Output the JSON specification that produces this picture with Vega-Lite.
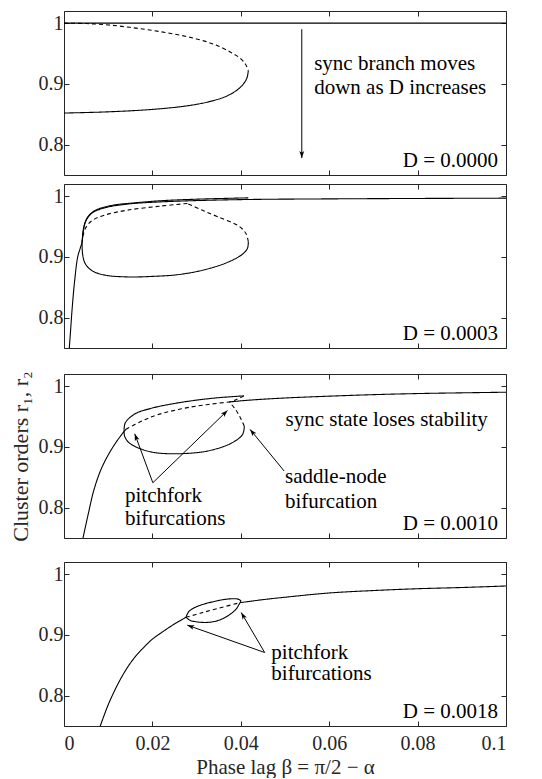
{
  "$schema": "https://vega.github.io/schema/vega-lite/v6.json",
  "padding": {"left": 8, "top": 10, "right": 8, "bottom": 0},
  "spacing": 18,
  "config": {
    "view": {"stroke": "#262626", "strokeWidth": 1},
    "axis": {"grid": false, "domain": false, "tickSize": -5, "tickColor": "#262626", "tickWidth": 1, "labelColor": "#262626", "labelFont": "Liberation Serif", "labelFontSize": 20, "titleFont": "Liberation Serif", "titleFontSize": 22, "titleFontWeight": "normal", "titleColor": "#262626"}
  },
  "datasets": {
    "curves": [
      {"panel":"p1","series":"p1sync","stability":"stable","ord":0,"x":0,"y":1},
      {"panel":"p1","series":"p1sync","stability":"stable","ord":1,"x":0.1,"y":1},
      {"panel":"p1","series":"p1up","stability":"unstable","ord":0,"x":0,"y":1.0},
      {"panel":"p1","series":"p1up","stability":"unstable","ord":1,"x":0.005,"y":0.9993},
      {"panel":"p1","series":"p1up","stability":"unstable","ord":2,"x":0.01,"y":0.997},
      {"panel":"p1","series":"p1up","stability":"unstable","ord":3,"x":0.015,"y":0.993},
      {"panel":"p1","series":"p1up","stability":"unstable","ord":4,"x":0.02,"y":0.988},
      {"panel":"p1","series":"p1up","stability":"unstable","ord":5,"x":0.025,"y":0.982},
      {"panel":"p1","series":"p1up","stability":"unstable","ord":6,"x":0.03,"y":0.974},
      {"panel":"p1","series":"p1up","stability":"unstable","ord":7,"x":0.034,"y":0.965},
      {"panel":"p1","series":"p1up","stability":"unstable","ord":8,"x":0.0375,"y":0.953},
      {"panel":"p1","series":"p1up","stability":"unstable","ord":9,"x":0.0399,"y":0.942},
      {"panel":"p1","series":"p1up","stability":"unstable","ord":10,"x":0.0411,"y":0.932},
      {"panel":"p1","series":"p1up","stability":"unstable","ord":11,"x":0.0417,"y":0.922},
      {"panel":"p1","series":"p1low","stability":"stable","ord":0,"x":0,"y":0.852},
      {"panel":"p1","series":"p1low","stability":"stable","ord":1,"x":0.01,"y":0.854},
      {"panel":"p1","series":"p1low","stability":"stable","ord":2,"x":0.02,"y":0.858},
      {"panel":"p1","series":"p1low","stability":"stable","ord":3,"x":0.028,"y":0.864},
      {"panel":"p1","series":"p1low","stability":"stable","ord":4,"x":0.033,"y":0.871},
      {"panel":"p1","series":"p1low","stability":"stable","ord":5,"x":0.0365,"y":0.879},
      {"panel":"p1","series":"p1low","stability":"stable","ord":6,"x":0.039,"y":0.889},
      {"panel":"p1","series":"p1low","stability":"stable","ord":7,"x":0.0405,"y":0.899},
      {"panel":"p1","series":"p1low","stability":"stable","ord":8,"x":0.0414,"y":0.91},
      {"panel":"p1","series":"p1low","stability":"stable","ord":9,"x":0.0417,"y":0.922},

      {"panel":"p2","series":"p2sync","stability":"stable","ord":0,"x":0.0012,"y":0.75},
      {"panel":"p2","series":"p2sync","stability":"stable","ord":1,"x":0.0015,"y":0.78},
      {"panel":"p2","series":"p2sync","stability":"stable","ord":2,"x":0.0019,"y":0.82},
      {"panel":"p2","series":"p2sync","stability":"stable","ord":3,"x":0.0024,"y":0.86},
      {"panel":"p2","series":"p2sync","stability":"stable","ord":4,"x":0.0031,"y":0.9},
      {"panel":"p2","series":"p2sync","stability":"stable","ord":5,"x":0.0037,"y":0.915},
      {"panel":"p2","series":"p2sync","stability":"stable","ord":6,"x":0.0041,"y":0.925},
      {"panel":"p2","series":"p2sync","stability":"stable","ord":7,"x":0.0044,"y":0.944},
      {"panel":"p2","series":"p2sync","stability":"stable","ord":8,"x":0.005,"y":0.96},
      {"panel":"p2","series":"p2sync","stability":"stable","ord":9,"x":0.0064,"y":0.9725},
      {"panel":"p2","series":"p2sync","stability":"stable","ord":10,"x":0.0093,"y":0.981},
      {"panel":"p2","series":"p2sync","stability":"stable","ord":11,"x":0.0144,"y":0.987},
      {"panel":"p2","series":"p2sync","stability":"stable","ord":12,"x":0.0217,"y":0.9905},
      {"panel":"p2","series":"p2sync","stability":"stable","ord":13,"x":0.029,"y":0.9925},
      {"panel":"p2","series":"p2sync","stability":"stable","ord":14,"x":0.0417,"y":0.9945},
      {"panel":"p2","series":"p2sync","stability":"stable","ord":15,"x":0.06,"y":0.9955},
      {"panel":"p2","series":"p2sync","stability":"stable","ord":16,"x":0.08,"y":0.9962},
      {"panel":"p2","series":"p2sync","stability":"stable","ord":17,"x":0.1,"y":0.9967},
      {"panel":"p2","series":"p2r1","stability":"stable","ord":0,"x":0.0041,"y":0.925},
      {"panel":"p2","series":"p2r1","stability":"stable","ord":1,"x":0.0045,"y":0.95},
      {"panel":"p2","series":"p2r1","stability":"stable","ord":2,"x":0.0054,"y":0.966},
      {"panel":"p2","series":"p2r1","stability":"stable","ord":3,"x":0.0072,"y":0.977},
      {"panel":"p2","series":"p2r1","stability":"stable","ord":4,"x":0.011,"y":0.985},
      {"panel":"p2","series":"p2r1","stability":"stable","ord":5,"x":0.016,"y":0.989},
      {"panel":"p2","series":"p2r1","stability":"stable","ord":6,"x":0.022,"y":0.9925},
      {"panel":"p2","series":"p2r1","stability":"stable","ord":7,"x":0.03,"y":0.995},
      {"panel":"p2","series":"p2r1","stability":"stable","ord":8,"x":0.0417,"y":0.9972},
      {"panel":"p2","series":"p2loop","stability":"stable","ord":0,"x":0.0041,"y":0.925},
      {"panel":"p2","series":"p2loop","stability":"stable","ord":1,"x":0.0042,"y":0.905},
      {"panel":"p2","series":"p2loop","stability":"stable","ord":2,"x":0.0048,"y":0.889},
      {"panel":"p2","series":"p2loop","stability":"stable","ord":3,"x":0.0064,"y":0.877},
      {"panel":"p2","series":"p2loop","stability":"stable","ord":4,"x":0.0093,"y":0.87},
      {"panel":"p2","series":"p2loop","stability":"stable","ord":5,"x":0.0144,"y":0.867},
      {"panel":"p2","series":"p2loop","stability":"stable","ord":6,"x":0.0203,"y":0.868},
      {"panel":"p2","series":"p2loop","stability":"stable","ord":7,"x":0.0261,"y":0.871},
      {"panel":"p2","series":"p2loop","stability":"stable","ord":8,"x":0.0319,"y":0.879},
      {"panel":"p2","series":"p2loop","stability":"stable","ord":9,"x":0.037,"y":0.891},
      {"panel":"p2","series":"p2loop","stability":"stable","ord":10,"x":0.0403,"y":0.904},
      {"panel":"p2","series":"p2loop","stability":"stable","ord":11,"x":0.0415,"y":0.914},
      {"panel":"p2","series":"p2loop","stability":"stable","ord":12,"x":0.0417,"y":0.925},
      {"panel":"p2","series":"p2dfold","stability":"unstable","ord":0,"x":0.0417,"y":0.925},
      {"panel":"p2","series":"p2dfold","stability":"unstable","ord":1,"x":0.0412,"y":0.938},
      {"panel":"p2","series":"p2dfold","stability":"unstable","ord":2,"x":0.0396,"y":0.9505},
      {"panel":"p2","series":"p2dfold","stability":"unstable","ord":3,"x":0.0348,"y":0.966},
      {"panel":"p2","series":"p2dfold","stability":"unstable","ord":4,"x":0.0312,"y":0.977},
      {"panel":"p2","series":"p2dfold","stability":"unstable","ord":5,"x":0.0279,"y":0.988},
      {"panel":"p2","series":"p2dinner","stability":"unstable","ord":0,"x":0.0279,"y":0.988},
      {"panel":"p2","series":"p2dinner","stability":"unstable","ord":1,"x":0.0217,"y":0.9835},
      {"panel":"p2","series":"p2dinner","stability":"unstable","ord":2,"x":0.0144,"y":0.977},
      {"panel":"p2","series":"p2dinner","stability":"unstable","ord":3,"x":0.0093,"y":0.969},
      {"panel":"p2","series":"p2dinner","stability":"unstable","ord":4,"x":0.0064,"y":0.96},
      {"panel":"p2","series":"p2dinner","stability":"unstable","ord":5,"x":0.005,"y":0.949},
      {"panel":"p2","series":"p2dinner","stability":"unstable","ord":6,"x":0.0043,"y":0.935},
      {"panel":"p2","series":"p2dinner","stability":"unstable","ord":7,"x":0.0041,"y":0.925},

      {"panel":"p3","series":"p3syncA","stability":"stable","ord":0,"x":0.0043,"y":0.75},
      {"panel":"p3","series":"p3syncA","stability":"stable","ord":1,"x":0.0055,"y":0.79},
      {"panel":"p3","series":"p3syncA","stability":"stable","ord":2,"x":0.0068,"y":0.83},
      {"panel":"p3","series":"p3syncA","stability":"stable","ord":3,"x":0.0085,"y":0.865},
      {"panel":"p3","series":"p3syncA","stability":"stable","ord":4,"x":0.0105,"y":0.893},
      {"panel":"p3","series":"p3syncA","stability":"stable","ord":5,"x":0.0125,"y":0.915},
      {"panel":"p3","series":"p3syncA","stability":"stable","ord":6,"x":0.014,"y":0.929},
      {"panel":"p3","series":"p3syncB","stability":"unstable","ord":0,"x":0.014,"y":0.929},
      {"panel":"p3","series":"p3syncB","stability":"unstable","ord":1,"x":0.0176,"y":0.9425},
      {"panel":"p3","series":"p3syncB","stability":"unstable","ord":2,"x":0.0212,"y":0.953},
      {"panel":"p3","series":"p3syncB","stability":"unstable","ord":3,"x":0.0286,"y":0.9655},
      {"panel":"p3","series":"p3syncB","stability":"unstable","ord":4,"x":0.0374,"y":0.974},
      {"panel":"p3","series":"p3syncC","stability":"stable","ord":0,"x":0.0374,"y":0.974},
      {"panel":"p3","series":"p3syncC","stability":"stable","ord":1,"x":0.042,"y":0.977},
      {"panel":"p3","series":"p3syncC","stability":"stable","ord":2,"x":0.05,"y":0.9805},
      {"panel":"p3","series":"p3syncC","stability":"stable","ord":3,"x":0.06,"y":0.9835},
      {"panel":"p3","series":"p3syncC","stability":"stable","ord":4,"x":0.07,"y":0.986},
      {"panel":"p3","series":"p3syncC","stability":"stable","ord":5,"x":0.08,"y":0.9878},
      {"panel":"p3","series":"p3syncC","stability":"stable","ord":6,"x":0.09,"y":0.989},
      {"panel":"p3","series":"p3syncC","stability":"stable","ord":7,"x":0.1,"y":0.99},
      {"panel":"p3","series":"p3top","stability":"stable","ord":0,"x":0.0136,"y":0.929},
      {"panel":"p3","series":"p3top","stability":"stable","ord":1,"x":0.0139,"y":0.94},
      {"panel":"p3","series":"p3top","stability":"stable","ord":2,"x":0.0161,"y":0.9545},
      {"panel":"p3","series":"p3top","stability":"stable","ord":3,"x":0.02,"y":0.964},
      {"panel":"p3","series":"p3top","stability":"stable","ord":4,"x":0.025,"y":0.9715},
      {"panel":"p3","series":"p3top","stability":"stable","ord":5,"x":0.03,"y":0.977},
      {"panel":"p3","series":"p3top","stability":"stable","ord":6,"x":0.035,"y":0.981},
      {"panel":"p3","series":"p3top","stability":"stable","ord":7,"x":0.0407,"y":0.984},
      {"panel":"p3","series":"p3low","stability":"stable","ord":0,"x":0.0136,"y":0.929},
      {"panel":"p3","series":"p3low","stability":"stable","ord":1,"x":0.0137,"y":0.918},
      {"panel":"p3","series":"p3low","stability":"stable","ord":2,"x":0.0147,"y":0.907},
      {"panel":"p3","series":"p3low","stability":"stable","ord":3,"x":0.0176,"y":0.896},
      {"panel":"p3","series":"p3low","stability":"stable","ord":4,"x":0.0212,"y":0.89},
      {"panel":"p3","series":"p3low","stability":"stable","ord":5,"x":0.0271,"y":0.889},
      {"panel":"p3","series":"p3low","stability":"stable","ord":6,"x":0.033,"y":0.894},
      {"panel":"p3","series":"p3low","stability":"stable","ord":7,"x":0.0381,"y":0.907},
      {"panel":"p3","series":"p3low","stability":"stable","ord":8,"x":0.0404,"y":0.9205},
      {"panel":"p3","series":"p3low","stability":"stable","ord":9,"x":0.0408,"y":0.934},
      {"panel":"p3","series":"p3d1","stability":"unstable","ord":0,"x":0.0408,"y":0.934},
      {"panel":"p3","series":"p3d1","stability":"unstable","ord":1,"x":0.0399,"y":0.948},
      {"panel":"p3","series":"p3d1","stability":"unstable","ord":2,"x":0.0388,"y":0.9616},
      {"panel":"p3","series":"p3d1","stability":"unstable","ord":3,"x":0.0374,"y":0.974},
      {"panel":"p3","series":"p3d2","stability":"unstable","ord":0,"x":0.0407,"y":0.984},
      {"panel":"p3","series":"p3d2","stability":"unstable","ord":1,"x":0.039,"y":0.978},
      {"panel":"p3","series":"p3d2","stability":"unstable","ord":2,"x":0.0374,"y":0.974},

      {"panel":"p4","series":"p4syncA","stability":"stable","ord":0,"x":0.0081,"y":0.748},
      {"panel":"p4","series":"p4syncA","stability":"stable","ord":1,"x":0.009,"y":0.766},
      {"panel":"p4","series":"p4syncA","stability":"stable","ord":2,"x":0.01,"y":0.785},
      {"panel":"p4","series":"p4syncA","stability":"stable","ord":3,"x":0.0115,"y":0.809},
      {"panel":"p4","series":"p4syncA","stability":"stable","ord":4,"x":0.013,"y":0.83},
      {"panel":"p4","series":"p4syncA","stability":"stable","ord":5,"x":0.0145,"y":0.848},
      {"panel":"p4","series":"p4syncA","stability":"stable","ord":6,"x":0.016,"y":0.863},
      {"panel":"p4","series":"p4syncA","stability":"stable","ord":7,"x":0.018,"y":0.879},
      {"panel":"p4","series":"p4syncA","stability":"stable","ord":8,"x":0.02,"y":0.893},
      {"panel":"p4","series":"p4syncA","stability":"stable","ord":9,"x":0.0225,"y":0.906},
      {"panel":"p4","series":"p4syncA","stability":"stable","ord":10,"x":0.025,"y":0.918},
      {"panel":"p4","series":"p4syncA","stability":"stable","ord":11,"x":0.0276,"y":0.929},
      {"panel":"p4","series":"p4syncB","stability":"unstable","ord":0,"x":0.0276,"y":0.929},
      {"panel":"p4","series":"p4syncB","stability":"unstable","ord":1,"x":0.031,"y":0.936},
      {"panel":"p4","series":"p4syncB","stability":"unstable","ord":2,"x":0.035,"y":0.944},
      {"panel":"p4","series":"p4syncB","stability":"unstable","ord":3,"x":0.0398,"y":0.953},
      {"panel":"p4","series":"p4syncC","stability":"stable","ord":0,"x":0.0398,"y":0.953},
      {"panel":"p4","series":"p4syncC","stability":"stable","ord":1,"x":0.045,"y":0.958},
      {"panel":"p4","series":"p4syncC","stability":"stable","ord":2,"x":0.05,"y":0.962},
      {"panel":"p4","series":"p4syncC","stability":"stable","ord":3,"x":0.06,"y":0.969},
      {"panel":"p4","series":"p4syncC","stability":"stable","ord":4,"x":0.07,"y":0.973},
      {"panel":"p4","series":"p4syncC","stability":"stable","ord":5,"x":0.08,"y":0.976},
      {"panel":"p4","series":"p4syncC","stability":"stable","ord":6,"x":0.09,"y":0.978},
      {"panel":"p4","series":"p4syncC","stability":"stable","ord":7,"x":0.1,"y":0.9805},
      {"panel":"p4","series":"p4top","stability":"stable","ord":0,"x":0.0276,"y":0.929},
      {"panel":"p4","series":"p4top","stability":"stable","ord":1,"x":0.0282,"y":0.938},
      {"panel":"p4","series":"p4top","stability":"stable","ord":2,"x":0.0296,"y":0.945},
      {"panel":"p4","series":"p4top","stability":"stable","ord":3,"x":0.0318,"y":0.951},
      {"panel":"p4","series":"p4top","stability":"stable","ord":4,"x":0.034,"y":0.955},
      {"panel":"p4","series":"p4top","stability":"stable","ord":5,"x":0.036,"y":0.958},
      {"panel":"p4","series":"p4top","stability":"stable","ord":6,"x":0.038,"y":0.9595},
      {"panel":"p4","series":"p4top","stability":"stable","ord":7,"x":0.0393,"y":0.959},
      {"panel":"p4","series":"p4top","stability":"stable","ord":8,"x":0.04,"y":0.956},
      {"panel":"p4","series":"p4top","stability":"stable","ord":9,"x":0.0398,"y":0.953},
      {"panel":"p4","series":"p4bot","stability":"stable","ord":0,"x":0.0276,"y":0.929},
      {"panel":"p4","series":"p4bot","stability":"stable","ord":1,"x":0.0285,"y":0.924},
      {"panel":"p4","series":"p4bot","stability":"stable","ord":2,"x":0.03,"y":0.9215},
      {"panel":"p4","series":"p4bot","stability":"stable","ord":3,"x":0.032,"y":0.9205},
      {"panel":"p4","series":"p4bot","stability":"stable","ord":4,"x":0.034,"y":0.922},
      {"panel":"p4","series":"p4bot","stability":"stable","ord":5,"x":0.036,"y":0.927},
      {"panel":"p4","series":"p4bot","stability":"stable","ord":6,"x":0.0378,"y":0.935},
      {"panel":"p4","series":"p4bot","stability":"stable","ord":7,"x":0.039,"y":0.943},
      {"panel":"p4","series":"p4bot","stability":"stable","ord":8,"x":0.0398,"y":0.953}
    ],
    "notes": [
      {"panel":"p1","side":"left","x":0.0566,"y":0.9325,"text":"sync branch moves"},
      {"panel":"p1","side":"left","x":0.0566,"y":0.893,"text":"down as D increases"},
      {"panel":"p1","side":"right","x":0.0982,"y":0.773,"text":"D = 0.0000"},
      {"panel":"p2","side":"right","x":0.0982,"y":0.773,"text":"D = 0.0003"},
      {"panel":"p3","side":"right","x":0.0982,"y":0.773,"text":"D = 0.0010"},
      {"panel":"p3","side":"right","x":0.0959,"y":0.945,"text":"sync state loses stability"},
      {"panel":"p3","side":"left","x":0.0138,"y":0.8198,"text":"pitchfork"},
      {"panel":"p3","side":"left","x":0.0138,"y":0.7814,"text":"bifurcations"},
      {"panel":"p3","side":"left","x":0.05,"y":0.8506,"text":"saddle-node"},
      {"panel":"p3","side":"left","x":0.05,"y":0.8094,"text":"bifurcation"},
      {"panel":"p4","side":"right","x":0.0982,"y":0.773,"text":"D = 0.0018"},
      {"panel":"p4","side":"left","x":0.0469,"y":0.871,"text":"pitchfork"},
      {"panel":"p4","side":"left","x":0.0469,"y":0.835,"text":"bifurcations"}
    ],
    "arrows": [
      {"panel":"p1","x":0.0538,"y":0.99,"x2":0.0538,"y2":0.778},
      {"panel":"p3","x":0.0201,"y":0.841,"x2":0.016,"y2":0.9216},
      {"panel":"p3","x":0.0201,"y":0.841,"x2":0.037,"y2":0.96},
      {"panel":"p3","x":0.0498,"y":0.8603,"x2":0.0421,"y2":0.9288},
      {"panel":"p4","x":0.0454,"y":0.871,"x2":0.0279,"y2":0.916},
      {"panel":"p4","x":0.0454,"y":0.871,"x2":0.0401,"y2":0.9367}
    ]
  },
  "vconcat": [
    {
      "spacing": 7,
      "vconcat": [
        {
          "width": 442, "height": 164,
          "resolve": {"axis": {"x": "independent", "y": "independent"}},
          "layer": [
            {"data": {"name": "curves"}, "transform": [{"filter": "datum.panel == 'p1'"}],
             "mark": {"type": "line", "color": "black", "strokeWidth": 1.1, "interpolate": "catmull-rom", "clip": true},
             "encoding": {
               "x": {"field": "x", "type": "quantitative", "scale": {"domain": [0, 0.1], "nice": false, "zero": false}, "axis": {"orient": "bottom", "values": [0, 0.02, 0.04, 0.06, 0.08, 0.1], "labels": false, "title": null}},
               "y": {"field": "y", "type": "quantitative", "scale": {"domain": [0.75, 1.02], "nice": false, "zero": false}, "axis": {"orient": "left", "values": [0.8, 0.9, 1], "format": "~g", "title": null, "labelPadding": 6}},
               "detail": {"field": "series"},
               "order": {"field": "ord", "type": "quantitative"},
               "strokeDash": {"field": "stability", "type": "nominal", "scale": {"domain": ["stable", "unstable"], "range": [[1, 0], [4, 3]]}, "legend": null}
             }},
            {"data": {"name": "curves"}, "transform": [{"filter": "datum.panel == 'p1'"}],
             "mark": {"type": "point", "opacity": 0},
             "encoding": {
               "x": {"field": "x", "type": "quantitative", "axis": {"orient": "top", "values": [0, 0.02, 0.04, 0.06, 0.08, 0.1], "labels": false, "title": null}},
               "y": {"field": "y", "type": "quantitative", "axis": {"orient": "right", "values": [0.8, 0.9, 1], "labels": false, "title": null}}
             }},
            {"data": {"name": "notes"}, "transform": [{"filter": "datum.panel == 'p1' && datum.side == 'left'"}],
             "mark": {"type": "text", "align": "left", "baseline": "middle", "font": "Liberation Serif", "fontSize": 21, "color": "black"},
             "encoding": {"x": {"field": "x", "type": "quantitative", "axis": null}, "y": {"field": "y", "type": "quantitative", "axis": null}, "text": {"field": "text"}}},
            {"data": {"name": "notes"}, "transform": [{"filter": "datum.panel == 'p1' && datum.side == 'right'"}],
             "mark": {"type": "text", "align": "right", "baseline": "middle", "font": "Liberation Serif", "fontSize": 21, "color": "black"},
             "encoding": {"x": {"field": "x", "type": "quantitative", "axis": null}, "y": {"field": "y", "type": "quantitative", "axis": null}, "text": {"field": "text"}}},
            {"data": {"name": "arrows"}, "transform": [{"filter": "datum.panel == 'p1'"}],
             "mark": {"type": "rule", "color": "black", "strokeWidth": 1},
             "encoding": {"x": {"field": "x", "type": "quantitative", "axis": null}, "y": {"field": "y", "type": "quantitative", "axis": null}, "x2": {"field": "x2"}, "y2": {"field": "y2"}}},
            {"data": {"name": "arrows"}, "transform": [{"filter": "datum.panel == 'p1'"}, {"calculate": "atan2((datum.x2 - datum.x) * 4420, (datum.y2 - datum.y) * 607.4) * 180 / PI", "as": "heading"}],
             "mark": {"type": "point", "shape": "M0,0L0.35,1L0,0.75L-0.35,1Z", "filled": true, "color": "black", "opacity": 1, "size": 196, "strokeWidth": 0},
             "encoding": {"x": {"field": "x2", "type": "quantitative", "axis": null}, "y": {"field": "y2", "type": "quantitative", "axis": null}, "angle": {"field": "heading", "type": "quantitative", "scale": null}}}
          ]
        },
        {
          "width": 442, "height": 164,
          "resolve": {"axis": {"x": "independent", "y": "independent"}},
          "layer": [
            {"data": {"name": "curves"}, "transform": [{"filter": "datum.panel == 'p2'"}],
             "mark": {"type": "line", "color": "black", "strokeWidth": 1.1, "interpolate": "catmull-rom", "clip": true},
             "encoding": {
               "x": {"field": "x", "type": "quantitative", "scale": {"domain": [0, 0.1], "nice": false, "zero": false}, "axis": {"orient": "bottom", "values": [0, 0.02, 0.04, 0.06, 0.08, 0.1], "labels": false, "title": null}},
               "y": {"field": "y", "type": "quantitative", "scale": {"domain": [0.75, 1.02], "nice": false, "zero": false}, "axis": {"orient": "left", "values": [0.8, 0.9, 1], "format": "~g", "title": null, "labelPadding": 6}},
               "detail": {"field": "series"},
               "order": {"field": "ord", "type": "quantitative"},
               "strokeDash": {"field": "stability", "type": "nominal", "scale": {"domain": ["stable", "unstable"], "range": [[1, 0], [4, 3]]}, "legend": null}
             }},
            {"data": {"name": "curves"}, "transform": [{"filter": "datum.panel == 'p2'"}],
             "mark": {"type": "point", "opacity": 0},
             "encoding": {
               "x": {"field": "x", "type": "quantitative", "axis": {"orient": "top", "values": [0, 0.02, 0.04, 0.06, 0.08, 0.1], "labels": false, "title": null}},
               "y": {"field": "y", "type": "quantitative", "axis": {"orient": "right", "values": [0.8, 0.9, 1], "labels": false, "title": null}}
             }},
            {"data": {"name": "notes"}, "transform": [{"filter": "datum.panel == 'p2' && datum.side == 'right'"}],
             "mark": {"type": "text", "align": "right", "baseline": "middle", "font": "Liberation Serif", "fontSize": 21, "color": "black"},
             "encoding": {"x": {"field": "x", "type": "quantitative", "axis": null}, "y": {"field": "y", "type": "quantitative", "axis": null}, "text": {"field": "text"}}}
          ]
        }
      ]
    },
    {
      "spacing": 19,
      "vconcat": [
        {
          "width": 442, "height": 164,
          "resolve": {"axis": {"x": "independent", "y": "independent"}},
          "layer": [
            {"data": {"name": "curves"}, "transform": [{"filter": "datum.panel == 'p3'"}],
             "mark": {"type": "line", "color": "black", "strokeWidth": 1.1, "interpolate": "catmull-rom", "clip": true},
             "encoding": {
               "x": {"field": "x", "type": "quantitative", "scale": {"domain": [0, 0.1], "nice": false, "zero": false}, "axis": {"orient": "bottom", "values": [0, 0.02, 0.04, 0.06, 0.08, 0.1], "labels": false, "title": null}},
               "y": {"field": "y", "type": "quantitative", "scale": {"domain": [0.75, 1.02], "nice": false, "zero": false}, "axis": {"orient": "left", "values": [0.8, 0.9, 1], "format": "~g", "title": "Cluster orders r₁, r₂", "labelPadding": 6, "titlePadding": 6}},
               "detail": {"field": "series"},
               "order": {"field": "ord", "type": "quantitative"},
               "strokeDash": {"field": "stability", "type": "nominal", "scale": {"domain": ["stable", "unstable"], "range": [[1, 0], [4, 3]]}, "legend": null}
             }},
            {"data": {"name": "curves"}, "transform": [{"filter": "datum.panel == 'p3'"}],
             "mark": {"type": "point", "opacity": 0},
             "encoding": {
               "x": {"field": "x", "type": "quantitative", "axis": {"orient": "top", "values": [0, 0.02, 0.04, 0.06, 0.08, 0.1], "labels": false, "title": null}},
               "y": {"field": "y", "type": "quantitative", "axis": {"orient": "right", "values": [0.8, 0.9, 1], "labels": false, "title": null}}
             }},
            {"data": {"name": "notes"}, "transform": [{"filter": "datum.panel == 'p3' && datum.side == 'left'"}],
             "mark": {"type": "text", "align": "left", "baseline": "middle", "font": "Liberation Serif", "fontSize": 21, "color": "black"},
             "encoding": {"x": {"field": "x", "type": "quantitative", "axis": null}, "y": {"field": "y", "type": "quantitative", "axis": null}, "text": {"field": "text"}}},
            {"data": {"name": "notes"}, "transform": [{"filter": "datum.panel == 'p3' && datum.side == 'right'"}],
             "mark": {"type": "text", "align": "right", "baseline": "middle", "font": "Liberation Serif", "fontSize": 21, "color": "black"},
             "encoding": {"x": {"field": "x", "type": "quantitative", "axis": null}, "y": {"field": "y", "type": "quantitative", "axis": null}, "text": {"field": "text"}}},
            {"data": {"name": "arrows"}, "transform": [{"filter": "datum.panel == 'p3'"}],
             "mark": {"type": "rule", "color": "black", "strokeWidth": 1},
             "encoding": {"x": {"field": "x", "type": "quantitative", "axis": null}, "y": {"field": "y", "type": "quantitative", "axis": null}, "x2": {"field": "x2"}, "y2": {"field": "y2"}}},
            {"data": {"name": "arrows"}, "transform": [{"filter": "datum.panel == 'p3'"}, {"calculate": "atan2((datum.x2 - datum.x) * 4420, (datum.y2 - datum.y) * 607.4) * 180 / PI", "as": "heading"}],
             "mark": {"type": "point", "shape": "M0,0L0.35,1L0,0.75L-0.35,1Z", "filled": true, "color": "black", "opacity": 1, "size": 196, "strokeWidth": 0},
             "encoding": {"x": {"field": "x2", "type": "quantitative", "axis": null}, "y": {"field": "y2", "type": "quantitative", "axis": null}, "angle": {"field": "heading", "type": "quantitative", "scale": null}}}
          ]
        },
        {
          "width": 442, "height": 164,
          "resolve": {"axis": {"x": "independent", "y": "independent"}},
          "layer": [
            {"data": {"name": "curves"}, "transform": [{"filter": "datum.panel == 'p4'"}],
             "mark": {"type": "line", "color": "black", "strokeWidth": 1.1, "interpolate": "catmull-rom", "clip": true},
             "encoding": {
               "x": {"field": "x", "type": "quantitative", "scale": {"domain": [0, 0.1], "nice": false, "zero": false}, "axis": {"orient": "bottom", "values": [0, 0.02, 0.04, 0.06, 0.08, 0.1], "format": "~g", "title": "Phase lag β = π/2 − α", "titleFontSize": 21, "labelPadding": 12, "titlePadding": 3}},
               "y": {"field": "y", "type": "quantitative", "scale": {"domain": [0.75, 1.02], "nice": false, "zero": false}, "axis": {"orient": "left", "values": [0.8, 0.9, 1], "format": "~g", "title": null, "labelPadding": 6}},
               "detail": {"field": "series"},
               "order": {"field": "ord", "type": "quantitative"},
               "strokeDash": {"field": "stability", "type": "nominal", "scale": {"domain": ["stable", "unstable"], "range": [[1, 0], [4, 3]]}, "legend": null}
             }},
            {"data": {"name": "curves"}, "transform": [{"filter": "datum.panel == 'p4'"}],
             "mark": {"type": "point", "opacity": 0},
             "encoding": {
               "x": {"field": "x", "type": "quantitative", "axis": {"orient": "top", "values": [0, 0.02, 0.04, 0.06, 0.08, 0.1], "labels": false, "title": null}},
               "y": {"field": "y", "type": "quantitative", "axis": {"orient": "right", "values": [0.8, 0.9, 1], "labels": false, "title": null}}
             }},
            {"data": {"name": "notes"}, "transform": [{"filter": "datum.panel == 'p4' && datum.side == 'left'"}],
             "mark": {"type": "text", "align": "left", "baseline": "middle", "font": "Liberation Serif", "fontSize": 21, "color": "black"},
             "encoding": {"x": {"field": "x", "type": "quantitative", "axis": null}, "y": {"field": "y", "type": "quantitative", "axis": null}, "text": {"field": "text"}}},
            {"data": {"name": "notes"}, "transform": [{"filter": "datum.panel == 'p4' && datum.side == 'right'"}],
             "mark": {"type": "text", "align": "right", "baseline": "middle", "font": "Liberation Serif", "fontSize": 21, "color": "black"},
             "encoding": {"x": {"field": "x", "type": "quantitative", "axis": null}, "y": {"field": "y", "type": "quantitative", "axis": null}, "text": {"field": "text"}}},
            {"data": {"name": "arrows"}, "transform": [{"filter": "datum.panel == 'p4'"}],
             "mark": {"type": "rule", "color": "black", "strokeWidth": 1},
             "encoding": {"x": {"field": "x", "type": "quantitative", "axis": null}, "y": {"field": "y", "type": "quantitative", "axis": null}, "x2": {"field": "x2"}, "y2": {"field": "y2"}}},
            {"data": {"name": "arrows"}, "transform": [{"filter": "datum.panel == 'p4'"}, {"calculate": "atan2((datum.x2 - datum.x) * 4420, (datum.y2 - datum.y) * 607.4) * 180 / PI", "as": "heading"}],
             "mark": {"type": "point", "shape": "M0,0L0.35,1L0,0.75L-0.35,1Z", "filled": true, "color": "black", "opacity": 1, "size": 196, "strokeWidth": 0},
             "encoding": {"x": {"field": "x2", "type": "quantitative", "axis": null}, "y": {"field": "y2", "type": "quantitative", "axis": null}, "angle": {"field": "heading", "type": "quantitative", "scale": null}}}
          ]
        }
      ]
    }
  ]
}
